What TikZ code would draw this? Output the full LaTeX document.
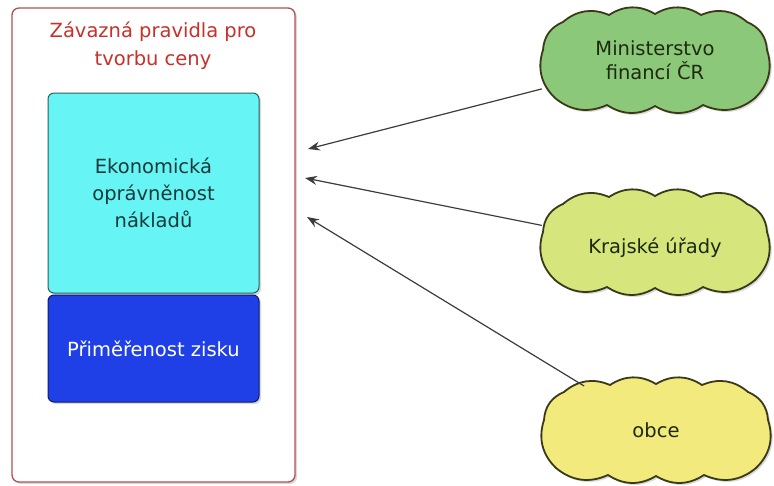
\documentclass[tikz,border=0pt]{standalone}
\usepackage{fontspec}
\setmainfont{DejaVu Sans}
\usetikzlibrary{shadows,arrows.meta}
\definecolor{frameborder}{HTML}{B05050}
\definecolor{titlered}{HTML}{C8302A}
\definecolor{cyanfill}{HTML}{66F4F4}
\definecolor{cyanborder}{HTML}{2A6060}
\definecolor{bluefill}{HTML}{1F40E6}
\definecolor{blueborder}{HTML}{0A1A70}
\definecolor{cloudA}{HTML}{8CC87A}
\definecolor{cloudB}{HTML}{D6E67C}
\definecolor{cloudC}{HTML}{F2EA7C}
\definecolor{cloudborder}{HTML}{3A3A18}
\definecolor{cloudtext}{HTML}{1E2A10}
\definecolor{arrowgray}{HTML}{3C3C3C}
\tikzset{
  softshadow/.style={drop shadow={opacity=0.3,shadow xshift=2pt,shadow yshift=-2pt}},
  framebox/.style={draw=frameborder,line width=1.3pt,fill=white,rounded corners=7pt,softshadow},
  innerbox/.style={line width=1pt,rounded corners=6pt,minimum width=211pt,align=center,font=\fontsize{19.5}{27}\selectfont},
  cloudline/.style={draw=cloudborder,line width=1.8pt,softshadow},
  cloudtextnode/.style={minimum width=226pt,minimum height=100pt,inner sep=0pt,align=center,text=cloudtext,font=\fontsize{19.5}{24}\selectfont},
  link/.style={draw=arrowgray,line width=1.2pt,-{Stealth[length=12pt,width=9pt,inset=4pt]}},
  puff/.style={bend left=32}
}
\newcommand{\mycloud}[3]{%
  \path[cloudline,fill=#3,shift={(#1,#2)}]
    (-112,-10) to[puff] (-92,-38) to[puff] (-46,-45) to[puff] (0,-46)
    to[puff] (46,-45) to[puff] (92,-38) to[puff] (112,-10)
    to[puff] (100,38) to[puff] (48,45) to[puff] (0,46)
    to[puff] (-48,45) to[puff] (-100,38) to[puff] (-112,-10) -- cycle;}
\begin{document}
\begin{tikzpicture}[x=1pt,y=-1pt]
\useasboundingbox (0,0) rectangle (774,485);
\node[framebox,minimum width=283pt,minimum height=474pt,inner sep=0pt] (frame) at (153.5,245) {};
\node[text=titlered,align=center,font=\fontsize{19.5}{28}\selectfont] (title) at (153,46) {Závazná pravidla pro\\tvorbu ceny};
\node[innerbox,draw=cyanborder,fill=cyanfill,minimum height=200pt,text=cyanborder!60!black,softshadow] (eko) at (153.5,193) {Ekonomická\\oprávněnost\\nákladů};
\node[innerbox,draw=blueborder,fill=bluefill,minimum height=107pt,text=white,softshadow] (zisk) at (153.5,348.5) {Přiměřenost zisku};
\mycloud{655}{60}{cloudA}
\mycloud{655}{242}{cloudB}
\mycloud{656}{430}{cloudC}
\node[cloudtextnode] (mf) at (655,60) {Ministerstvo\\financí ČR};
\node[cloudtextnode] (kr) at (655,248) {Krajské úřady};
\node[cloudtextnode] (ob) at (656,430) {obce};
\coordinate (t1) at (308,149);
\coordinate (t2) at (305,178);
\coordinate (t3) at (307,217);
\draw[link] (mf) -- (t1);
\draw[link] (kr) -- (t2);
\draw[link,shorten <=-12pt] (ob) -- (t3);
\end{tikzpicture}
\end{document}
